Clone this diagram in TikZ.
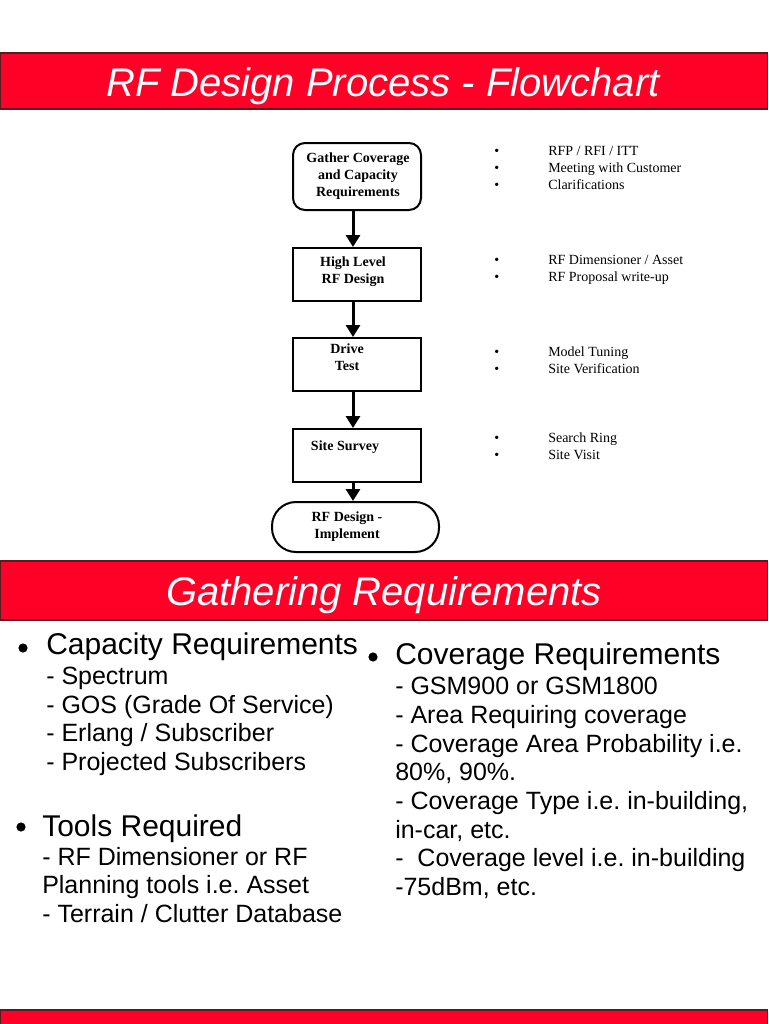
\documentclass[tikz,border=0pt]{standalone}
\usepackage{fontspec}
\setmainfont{Liberation Serif}
\newfontfamily\arial{Liberation Sans}
\usetikzlibrary{arrows.meta,calc}
\definecolor{barred}{HTML}{FF0026}
\definecolor{barline}{HTML}{5A1A20}
\frenchspacing
\begin{document}
\begin{tikzpicture}[x=0.75pt,y=-0.75pt,
  bar/.style={fill=barred, draw=barline, line width=1pt},
  bartitle/.style={font=\arial\itshape\fontsize{30}{36}\selectfont, text=white, anchor=base},
  boxstyle/.style={draw, line width=1.5pt, minimum width=96pt, inner sep=0pt},
  flowtxt/.style={font=\bfseries\fontsize{10.5}{12.75}\selectfont, align=center, inner sep=0pt},
  note/.style={font=\fontsize{10.5}{12.75}\selectfont, anchor=base west, inner sep=0pt},
  arr/.style={line width=2.25pt, -{Triangle[width=10.5pt,length=9pt]}},
  big/.style={font=\arial\fontsize{22.5}{27}\selectfont, anchor=base west, inner sep=0pt},
  sub/.style={font=\arial\fontsize{18.75}{21}\selectfont, anchor=base west, inner sep=0pt}]
\useasboundingbox (0,0) rectangle (768,1024);
\fill[white] (0,0) rectangle (768,1024);

% bars
\draw[bar] (0.5,53) rectangle (767.5,109);
\node[bartitle] (title1) at (383,96) {RF Design Process - Flowchart};
\draw[bar] (0.5,561) rectangle (767.5,620);
\node[bartitle] (title2) at (384,605) {Gathering Requirements};
\draw[bar] (0.5,1010) rectangle (767.5,1040);

% flowchart boxes
\node[boxstyle, rounded corners=9pt, minimum height=50.25pt] (b1) at (357,176.5) {};
\node[boxstyle, minimum height=39.75pt] (b2) at (357,274.5) {};
\node[boxstyle, minimum height=39.75pt] (b3) at (357,364.5) {};
\node[boxstyle, minimum height=39.75pt] (b4) at (357,455.5) {};
\node[boxstyle, rounded corners=18pt, minimum width=125.25pt, minimum height=37.5pt] (b5) at (355.5,527) {};

\node[flowtxt] (t1) at (358,176) {Gather Coverage\\and Capacity\\Requirements};
\node[flowtxt] (t2) at (353,272) {High Level\\RF Design};
\node[flowtxt] (t3) at (347,357.5) {Drive\\Test};
\node[flowtxt] (t4) at (345,447) {Site Survey};
\node[flowtxt] (t5) at (347,526.5) {RF Design -\\Implement};

\coordinate (ax) at (353,0);
\draw[arr] (b1.south -| ax) -- (b2.north -| ax);
\draw[arr] (b2.south -| ax) -- (b3.north -| ax);
\draw[arr] (b3.south -| ax) -- (b4.north -| ax);
\draw[arr] (b4.south -| ax) -- (b5.north -| ax);

% notes
\node[note] (d1) at (494,155) {•};
\node[note] (n1) at (548,155) {RFP / RFI / ITT};
\node[note] (d2) at (494,172) {•};
\node[note] (n2) at (548,172) {Meeting with Customer};
\node[note] (d3) at (494,189) {•};
\node[note] (n3) at (548,189) {Clarifications};
\node[note] (d4) at (494,264) {•};
\node[note] (n4) at (548,264) {RF Dimensioner / Asset};
\node[note] (d5) at (494,281) {•};
\node[note] (n5) at (548,281) {RF Proposal write-up};
\node[note] (d6) at (494,356) {•};
\node[note] (n6) at (548,356) {Model Tuning};
\node[note] (d7) at (494,373) {•};
\node[note] (n7) at (548,373) {Site Verification};
\node[note] (d8) at (494,442) {•};
\node[note] (n8) at (548,442) {Search Ring};
\node[note] (d9) at (494,459) {•};
\node[note] (n9) at (548,459) {Site Visit};

% lower section
\fill (23,648) circle[radius=4.6];
\node[big] (cap) at (46,654) {Capacity Requirements};
\node[sub] (c1) at (46,684) {- Spectrum};
\node[sub] (c2) at (46,713) {- GOS (Grade Of Service)};
\node[sub] (c3) at (46,741) {- Erlang / Subscriber};
\node[sub] (c4) at (46,770) {- Projected Subscribers};

\fill (21,827) circle[radius=4.6];
\node[big] (tools) at (42,836) {Tools Required};
\node[sub] (o1) at (42,865) {- RF Dimensioner or RF};
\node[sub] (o2) at (42,893) {Planning tools i.e. Asset};
\node[sub] (o3) at (42,922) {- Terrain / Clutter Database};

\fill (373,657) circle[radius=4.6];
\node[big] (cov) at (395,664) {Coverage Requirements};
\node[sub] (v1) at (395,694) {- GSM900 or GSM1800};
\node[sub] (v2) at (395,723) {- Area Requiring coverage};
\node[sub] (v3) at (395,752) {- Coverage Area Probability i.e.};
\node[sub] (v4) at (395,780) {80\%, 90\%.};
\node[sub] (v5) at (395,809) {- Coverage Type i.e. in-building,};
\node[sub] (v6) at (395,838) {in-car, etc.};
\node[sub] (v7) at (395,866) {-~ Coverage level i.e. in-building};
\node[sub] (v8) at (395,895) {-75dBm, etc.};
\end{tikzpicture}
\end{document}
